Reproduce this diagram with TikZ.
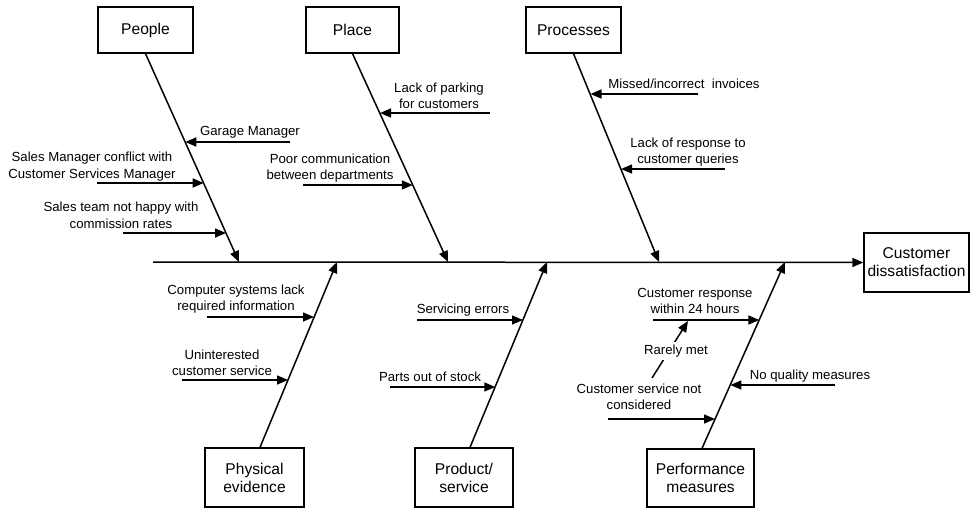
\documentclass[tikz,border=0pt]{standalone}
\usepackage{fontspec}
\setmainfont{Liberation Sans}
\usetikzlibrary{arrows.meta}
\begin{document}
\begin{tikzpicture}[x=1pt,y=-1pt,
  box/.style={draw, line width=1.3pt, align=center, font=\fontsize{15.6}{18}\selectfont, inner sep=0pt},
  lbl/.style={align=center, font=\fontsize{13.2}{16.5}\selectfont, inner sep=0pt},
  bone/.style={line width=1.5pt, -{Triangle[length=11pt,width=9pt]}},
  cause/.style={line width=1.5pt, -{Triangle[length=11pt,width=9pt]}}]
\useasboundingbox (0,0) rectangle (971,508);
% category boxes
\node[box, minimum width=95pt, minimum height=46pt] (people) at (145.5,30) {People};
\node[box, minimum width=93pt, minimum height=46pt] (place) at (352.5,30) {Place};
\node[box, minimum width=95pt, minimum height=46pt] (proc) at (573.5,30) {Processes};
\node[box, minimum width=105pt, minimum height=59pt] (effect) at (916.5,262.5) {Customer\\dissatisfaction};
\node[box, minimum width=99pt, minimum height=59pt] (phys) at (254.5,477.5) {Physical\\evidence};
\node[box, minimum width=98pt, minimum height=59pt] (prod) at (464,477.5) {Product/\\service};
\node[box, minimum width=107pt, minimum height=58pt] (perf) at (700.5,478) {Performance\\measures};
% spine
\coordinate (s0) at (153,262);
\draw[bone] (s0) -- (effect.west);
% junctions on the spine
\coordinate (jpeople) at (239,262);
\coordinate (jplace) at (448,262);
\coordinate (jproc) at (659,262);
\coordinate (jphys) at (337,262);
\coordinate (jprod) at (547,262);
\coordinate (jperf) at (785,262);
% bones
\draw[bone] (people.south) -- (jpeople);
\draw[bone] (place.south) -- (jplace);
\draw[bone] (proc.south) -- (jproc);
\draw[bone] ([xshift=5.5pt]phys.north) -- (jphys);
\draw[bone] ([xshift=6pt]prod.north) -- (jprod);
\draw[bone] ([xshift=1.5pt]perf.north) -- (jperf);
% cause arrows: tails and heads
\coordinate (t1) at (290,142); \coordinate (h1) at (185.3,142);
\coordinate (t2) at (97,183);  \coordinate (h2) at (203.7,183);
\coordinate (t3) at (123,233); \coordinate (h3) at (226,233);
\coordinate (t4) at (490,113); \coordinate (h4) at (380,113);
\coordinate (t5) at (303,185); \coordinate (h5) at (412.8,185);
\coordinate (t6) at (698,94);  \coordinate (h6) at (590.5,94);
\coordinate (t7) at (725,169); \coordinate (h7) at (621,169);
\coordinate (t8) at (207,317); \coordinate (h8) at (314,317);
\coordinate (t9) at (182,380); \coordinate (h9) at (288,380);
\coordinate (t10) at (417,320); \coordinate (h10) at (523,320);
\coordinate (t11) at (390,387); \coordinate (h11) at (495.3,387);
\coordinate (t12) at (653,320); \coordinate (h12) at (759.3,320);
\coordinate (t13) at (835,385); \coordinate (h13) at (730.4,385);
\coordinate (t14) at (608,419); \coordinate (h14) at (715,419);
\coordinate (rm0) at (652,378); \coordinate (rm1) at (688,321);
\foreach \i in {1,...,14} {\draw[cause] (t\i) -- (h\i);}
\draw[cause] (rm0) -- (rm1);
% labels
\node[lbl] (l1) at (250,132) {Garage Manager};
\node[lbl] (l2) at (92,166.5) {Sales Manager conflict with\\Customer Services Manager};
\node[lbl] (l3) at (121,215.5) {Sales team not happy with\\commission rates};
\node[lbl] (l4) at (439,96) {Lack of parking\\for customers};
\node[lbl] (l5) at (330,168) {Poor communication\\between departments};
\node[lbl] (l6) at (684,84) {Missed/incorrect\ \ invoices};
\node[lbl] (l7) at (688,152) {Lack of response to\\customer queries};
\node[lbl] (l8) at (236,299) {Computer systems lack\\required information};
\node[lbl] (l9) at (222,363) {Uninterested\\customer service};
\node[lbl] (l10) at (463,310) {Servicing errors};
\node[lbl] (l11) at (430,377) {Parts out of stock};
\node[lbl] (l12) at (695,301) {Customer response\\within 24 hours};
\node[lbl, fill=white, inner ysep=3pt, inner xsep=1pt] (l13) at (676,351) {Rarely met};
\node[lbl] (l14) at (810,376) {No quality measures};
\node[lbl] (l15) at (639,397) {Customer service not\\considered};
\end{tikzpicture}
\end{document}
